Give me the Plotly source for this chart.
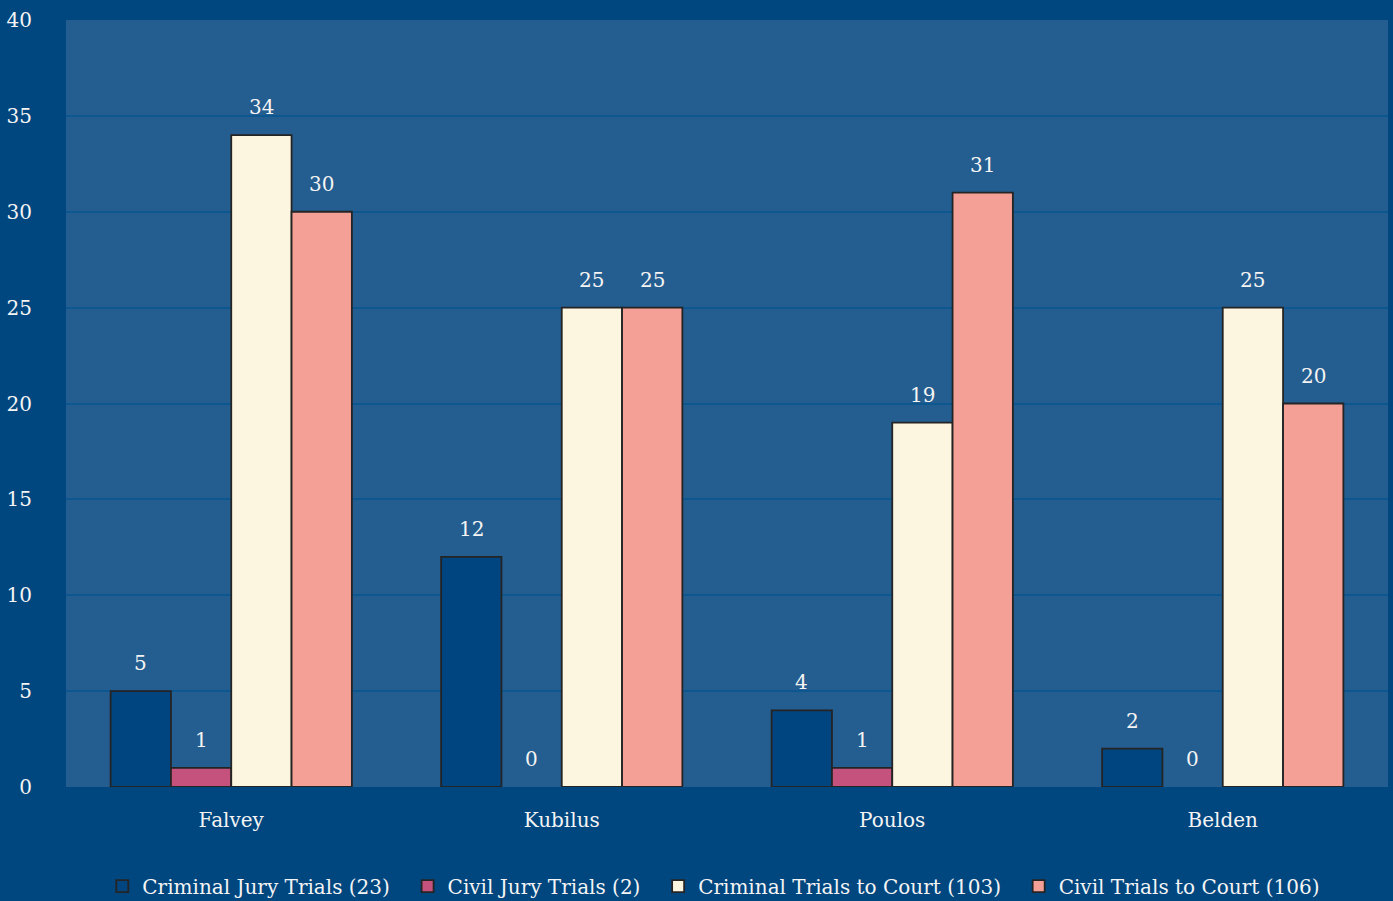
import plotly.graph_objects as go

judges = ["Falvey", "Kubilus", "Poulos", "Belden"]
series_names = [
    "Criminal Jury Trials (23)",
    "Civil Jury Trials (2)",
    "Criminal Trials to Court (103)",
    "Civil Trials to Court (106)",
]
criminal_jury = [5, 12, 4, 2]
civil_jury = [1, 0, 1, 0]
criminal_court = [34, 25, 19, 25]
civil_court = [30, 25, 31, 20]
series_values = [criminal_jury, civil_jury, criminal_court, civil_court]
colors = ["#00457f", "#c4527c", "#fcf5df", "#f5a096"]
y_ticks = [0, 5, 10, 15, 20, 25, 30, 35, 40]

PAPER = "#00467f"
PLOT = "#245d8f"
GRID = "#0d5791"
FONT = "DejaVu Serif, Liberation Serif, serif"
TXT = "#f4f4f4"

bargap = 0.27
n = len(series_values)
bar_w = (1 - bargap) / n

x_idx = list(range(len(judges)))
fig = go.Figure()
for i, (name, vals, col) in enumerate(zip(series_names, series_values, colors)):
    pad = "\u00a0\u00a0" if i < n - 1 else ""
    fig.add_trace(go.Bar(
        x=x_idx, y=vals, name=name + pad,
        marker=dict(color=col, line=dict(color="#242424",
                                         width=[1.8 if v else 0 for v in vals])),
        hoverinfo="y",
    ))
    off = -(1 - bargap) / 2 + bar_w * (i + 0.5)
    for xi, v in zip(x_idx, vals):
        fig.add_annotation(
            x=xi + off, y=v, xref="x", yref="y", text=str(v),
            showarrow=False, yanchor="bottom", yshift=14,
            font=dict(family=FONT, size=20, color=TXT),
        )

fig.update_layout(
    width=1393, height=901,
    paper_bgcolor=PAPER, plot_bgcolor=PLOT,
    margin=dict(l=66, r=5, t=20, b=114, pad=0, autoexpand=False),
    barmode="group", bargap=bargap, bargroupgap=0,
    font=dict(family=FONT, size=20, color=TXT),
    showlegend=True,
    legend=dict(
        orientation="h", x=0.49, xanchor="center",
        yref="container", y=0.0166, yanchor="middle",
        font=dict(family=FONT, size=20, color=TXT),
        bgcolor="rgba(0,0,0,0)", itemwidth=30,
    ),
    xaxis=dict(
        tickvals=x_idx, ticktext=judges, range=[-0.5, len(judges) - 0.5],
        showgrid=False, zeroline=False, showline=False,
        ticks="outside", ticklen=0, ticklabelstandoff=15,
        tickfont=dict(family=FONT, size=20, color=TXT),
    ),
    yaxis=dict(
        range=[0, 40], tickvals=y_ticks, showgrid=True, gridcolor=GRID, gridwidth=2,
        zeroline=False, showline=False, ticklabelstandoff=33,
        tickfont=dict(family=FONT, size=20, color=TXT),
    ),
)

fig.write_html("out.html", config={"displayModeBar": False},
               post_script="document.body.style.margin='0';document.body.style.background='" + PAPER + "';")
